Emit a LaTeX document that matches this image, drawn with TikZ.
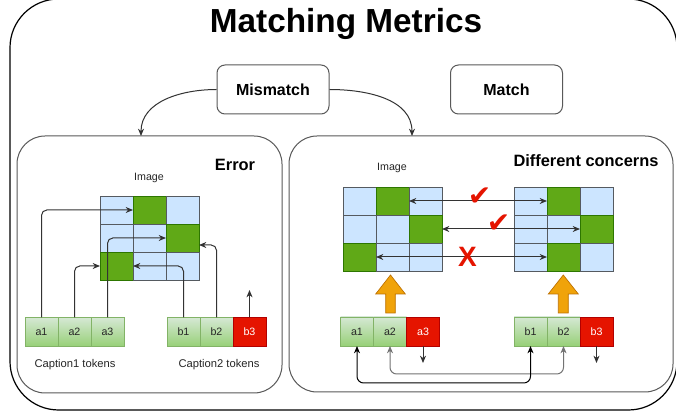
\documentclass[tikz,border=0pt]{standalone}
\usepackage{fontspec}
\setmainfont{Liberation Sans}
\newfontfamily\symfont{DejaVu Sans}
\usetikzlibrary{arrows.meta,calc}
\definecolor{cellblue}{HTML}{CCE5FF}
\definecolor{cellline}{HTML}{555A60}
\definecolor{cellgreen}{HTML}{60A917}
\definecolor{cellgreenD}{HTML}{2D7600}
\definecolor{tokA}{HTML}{D5E8D4}
\definecolor{tokB}{HTML}{97D077}
\definecolor{tokD}{HTML}{82B366}
\definecolor{tokred}{HTML}{E51400}
\definecolor{tokredD}{HTML}{B20000}
\definecolor{orangeF}{HTML}{F0A30A}
\definecolor{orangeD}{HTML}{BD7000}
\definecolor{markred}{HTML}{E51400}
\begin{document}
\begin{tikzpicture}[x=0.75pt,y=-0.75pt,
  panel/.style={draw=black!65, line width=0.75pt, rounded corners=21pt, inner sep=0pt},
  topbox/.style={draw=black!65, line width=0.75pt, rounded corners=6pt, minimum width=84pt, minimum height=36.75pt, inner sep=0pt, font=\fontsize{12}{14}\selectfont\bfseries},
  cell/.style={draw=cellline, line width=0.6pt, fill=cellblue, minimum width=24.75pt, minimum height=21pt, inner sep=0pt, outer sep=0pt},
  gcell/.style={cell, draw=cellgreenD, fill=cellgreen},
  tok/.style={draw=tokD, line width=0.6pt, top color=tokA, bottom color=tokB, minimum width=24.75pt, minimum height=21.75pt, inner sep=0pt, outer sep=0pt, font=\fontsize{8}{9}\selectfont, text=black!85},
  rtok/.style={draw=tokredD, line width=0.6pt, fill=tokred, minimum width=24.75pt, minimum height=21.75pt, inner sep=0pt, outer sep=0pt, font=\fontsize{8}{9}\selectfont, text=white},
  conn/.style={draw=black!80, line width=0.75pt, -{Stealth[length=5.5pt,width=4.5pt]}, rounded corners=4pt},
  dconn/.style={conn, {Stealth[length=5.5pt,width=4.5pt]}-{Stealth[length=5.5pt,width=4.5pt]}},
  lbl/.style={font=\fontsize{12.3}{14}\selectfont\bfseries},
  smalltxt/.style={font=\fontsize{8}{9}\selectfont, text=black!85},
  captxt/.style={font=\fontsize{8.4}{10}\selectfont, text=black!85},
  markstyle/.style={font=\symfont\fontsize{21}{21}\selectfont, text=markred, inner sep=0pt},
  xstyle/.style={font=\fontsize{21}{21}\selectfont\bfseries, text=markred, inner sep=0pt}
]
\useasboundingbox (0,0) rectangle (676,416);
\clip (0,0) rectangle (676,416);
\fill[white] (0,0) rectangle (676,416);

% outer frame
\draw[black, line width=0.9pt, rounded corners=36.5pt] (10,-1) rectangle (677,410);
\node[font=\fontsize{25}{28}\selectfont\bfseries] (title) at (346,24) {Matching Metrics};

% top boxes
\node[topbox] (mis) at (273,89.5) {Mismatch};
\node[topbox] (mat) at (506.5,89.5) {Match};

% panels
\node[panel, minimum width=198.75pt, minimum height=192.75pt] (errp) at (149.5,264.5) {};
\node[panel, minimum width=288pt, minimum height=192pt] (difp) at (481,264) {};
\coordinate (e1) at (141,136);
\coordinate (e2) at (412,136);
\draw[conn] (mis.west) to[out=180,in=90] (e1);
\draw[conn] (mis.east) to[out=0,in=90] (e2);

\node[lbl] (errt) at (235,165) {Error};
\node[lbl] (dift) at (586,161) {Different concerns};
\node[smalltxt] (img1) at (149,178) {Image};
\node[smalltxt] (img2) at (392,168) {Image};

% left grid
\foreach \r/\c/\s in {1/1/cell,1/2/gcell,1/3/cell,2/1/cell,2/2/cell,2/3/gcell,3/1/gcell,3/2/cell,3/3/cell}
  \node[\s] (L\r\c) at ({100+33*(\c-0.5)},{196+28*(\r-0.5)}) {};
% right panel grids
\foreach \r/\c/\s in {1/1/cell,1/2/gcell,1/3/cell,2/1/cell,2/2/cell,2/3/gcell,3/1/gcell,3/2/cell,3/3/cell}
  \node[\s] (RL\r\c) at ({343+33*(\c-0.5)},{187+28*(\r-0.5)}) {};
\foreach \r/\c/\s in {1/1/cell,1/2/gcell,1/3/cell,2/1/cell,2/2/cell,2/3/gcell,3/1/cell,3/2/gcell,3/3/cell}
  \node[\s] (RR\r\c) at ({514+33*(\c-0.5)},{187+28*(\r-0.5)}) {};

% left tokens
\node[tok] (la1) at (41.5,332) {a1};
\node[tok] (la2) at (74.5,332) {a2};
\node[tok] (la3) at (107.5,332) {a3};
\node[tok] (lb1) at (183.5,332) {b1};
\node[tok] (lb2) at (216.5,332) {b2};
\node[rtok] (lb3) at (249.5,332) {b3};
\node[captxt] (cap1) at (75,365) {Caption1 tokens};
\node[captxt] (cap2) at (219,365) {Caption2 tokens};

% left connectors
\draw[conn] (la1.north) |- (L12.west);
\draw[conn] (la2.north) |- (L31.west);
\draw[conn] (la3.north) |- (L23.west);
\draw[conn] (lb1.north) |- (L31.east);
\draw[conn] (lb2.north) |- ($(L23.east)+(0,7)$);
\coordinate (lb3up) at (249.5,290);
\draw[conn] (lb3.north) -- (lb3up);

% right tokens
\node[tok] (ra1) at (357,331.5) {a1};
\node[tok] (ra2) at (390,331.5) {a2};
\node[rtok] (ra3) at (423,331.5) {a3};
\node[tok] (rb1) at (530.5,331.5) {b1};
\node[tok] (rb2) at (563.5,331.5) {b2};
\node[rtok] (rb3) at (596.5,331.5) {b3};

% match arrows
\draw[dconn] (RL12.east) -- (RR12.west);
\draw[dconn] (RL23.east) -- (RR23.west);
\draw[dconn] (RL31.east) -- (RR32.west);
\node[markstyle] (ck1) at (479.5,197) {✔};
\node[markstyle] (ck2) at (498.5,223.5) {✔};
\node[xstyle] (xx) at (467.5,257) {X};

% orange block arrows
\draw[fill=orangeF, draw=orangeD, line width=0.5pt] (385.7,313) -- (385.7,294) -- (375.7,294) -- (390.5,275) -- (405.3,294) -- (395.3,294) -- (395.3,313) -- cycle;
\draw[fill=orangeF, draw=orangeD, line width=0.5pt] (558.3,313) -- (558.3,294) -- (548.3,294) -- (563.3,275) -- (578.3,294) -- (568.3,294) -- (568.3,313) -- cycle;

% bottom connectors
\coordinate (m1) at (530.5,383);
\coordinate (m2) at (563.5,374);
\draw[dconn, draw=black!55, rounded corners=5pt] (ra2.south) |- (m2) -- (rb2.south);
\draw[dconn, draw=black, rounded corners=5pt] (ra1.south) |- (m1) -- (rb1.south);
\coordinate (ra3dn) at (423,363);
\coordinate (rb3dn) at (596.5,363);
\draw[conn] (ra3.south) -- (ra3dn);
\draw[conn] (rb3.south) -- (rb3dn);
\end{tikzpicture}
\end{document}
